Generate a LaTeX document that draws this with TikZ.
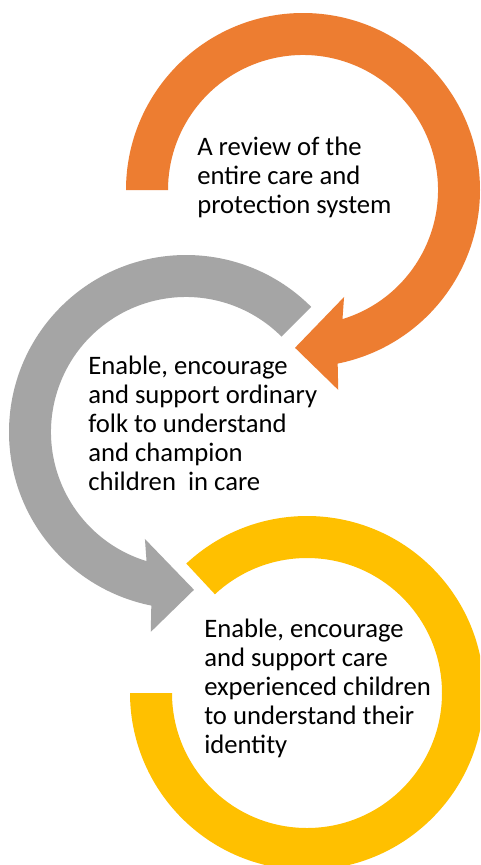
\documentclass[tikz,border=0pt]{standalone}
\usepackage{fontspec}
\setmainfont{Carlito}
\usepackage{tikz}
\usetikzlibrary{calc}

\definecolor{ringOrange}{RGB}{237,125,49}
\definecolor{ringGray}{RGB}{165,165,165}
\definecolor{ringYellow}{RGB}{255,192,0}

\begin{document}
\begin{tikzpicture}[x=0.75pt,y=0.75pt,yscale=-1,xscale=1,
  ringtext/.style={anchor=base west,inner sep=0pt,align=left,font=\fontsize{20}{21.75}\selectfont}]
\clip (0,0) rectangle (480,865);
\fill[white] (0,0) rectangle (480,865);

\coordinate (orangeC) at (303,190);
\coordinate (grayC) at (186,432);
\coordinate (yellowC) at (307,693);

%Curved arrow (orange)
\fill[ringOrange] ($(orangeC)+(180:177)$) arc[start angle=-180, end angle=78.7, radius=177]
  -- ($(orangeC)+(80:203)$) -- ($(orangeC)+(92.9:158)$) -- ($(orangeC)+(69:114.6)$)
  -- ($(orangeC)+(73:135)$) arc[start angle=73, end angle=-180, radius=135] -- cycle;
%Curved arrow (gray)
\fill[ringGray] ($(grayC)+(-45:177)$) arc[start angle=-45, end angle=-258.7, radius=177]
  -- ($(grayC)+(100:203)$) -- ($(grayC)+(87.1:158)$) -- ($(grayC)+(111:114.6)$)
  -- ($(grayC)+(107:135)$) arc[start angle=-253, end angle=-45, radius=135] -- cycle;
%Ring (yellow)
\fill[ringYellow] ($(yellowC)+(-133:177)$) arc[start angle=-133, end angle=180, radius=177]
  -- ($(yellowC)+(180:135)$) arc[start angle=180, end angle=-133, radius=135] -- cycle;

% Text Node (base = last line)
\node[ringtext] (review) at (197,213) {A review of the\\entire care and\\protection system};
% Text Node
\node[ringtext] (folk) at (88,490) {Enable, encourage\\and support ordinary\\folk to understand\\and champion\\children~ in care};
% Text Node
\node[ringtext] (identity) at (204,753) {Enable, encourage\\and support care\\experienced children\\to understand their\\identity};

\end{tikzpicture}
\end{document}
